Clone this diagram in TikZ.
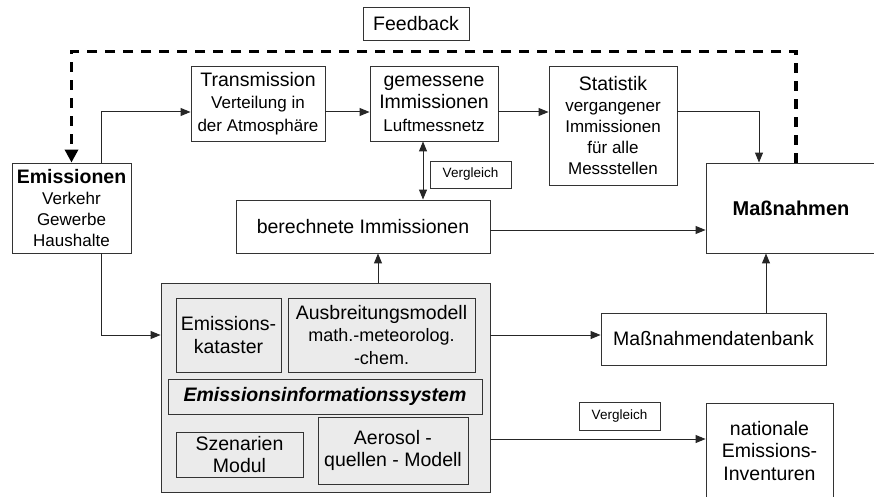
\documentclass[tikz,border=0pt]{standalone}
\usepackage{fontspec}
\setmainfont{Liberation Sans}
\usetikzlibrary{arrows.meta}

\newcommand{\gr}{\fontsize{19.5}{22.5}\selectfont}
\newcommand{\kl}{\fontsize{17}{21}\selectfont}

\begin{document}
\begin{tikzpicture}[x=1pt,y=-1pt,
  kasten/.style={draw=black!80, line width=0.9pt, inner sep=0pt, align=center, font=\gr},
  grau/.style={kasten, fill=black!8},
  vgl/.style={kasten, font=\fontsize{13.5}{16}\selectfont},
  pfeil/.style={draw=black!85, line width=1pt, -{Triangle[length=10pt,width=8pt]}},
  doppel/.style={pfeil, {Triangle[length=10pt,width=8pt]}-{Triangle[length=10pt,width=8pt]}},
  rueck/.style={line width=3.5pt, dash pattern=on 10pt off 8pt, -{Triangle[length=13pt,width=13pt]}}]
\useasboundingbox (0,0) rectangle (874,497);
\clip (0,0) rectangle (874,497);
% obere Reihe
\node[kasten, minimum width=106pt, minimum height=33pt] (feedback) at (416,23.5) {Feedback};
\node[kasten, minimum width=134pt, minimum height=75pt] (trans) at (258,103.5)
  {Transmission\\{\kl Verteilung in}\\{\kl der Atmosphäre}};
\node[kasten, minimum width=128pt, minimum height=75pt] (gemessen) at (434,103.5)
  {gemessene\\Immissionen\\{\kl Luftmessnetz}};
\node[kasten, minimum width=128pt, minimum height=119pt, font=\kl] (statistik) at (613,125.5)
  {{\gr Statistik}\\vergangener\\Immissionen\\für alle\\Messstellen};
\node[kasten, minimum width=119pt, minimum height=90pt, font=\kl] (emiss) at (71.5,208)
  {{\fontsize{19.5}{22}\selectfont\bfseries Emissionen}\\Verkehr\\Gewerbe\\Haushalte};
\node[kasten, minimum width=170pt, minimum height=90pt, font=\fontsize{20}{24}\selectfont\bfseries] (massn) at (791,208) {Maßnahmen};
\node[vgl, minimum width=81pt, minimum height=27pt] (vergl1) at (470.5,174.5) {Vergleich};
\node[kasten, minimum width=254pt, minimum height=53pt] (berech) at (363,226.5) {berechnete Immissionen};
% Emissionsinformationssystem
\node[grau, minimum width=329pt, minimum height=209pt] (eis) at (325.5,387.5) {};
\node[grau, minimum width=105pt, minimum height=74pt] (kataster) at (228.5,335) {Emissions-\\kataster};
\node[grau, minimum width=187pt, minimum height=74pt] (ausbr) at (381.5,335)
  {Ausbreitungsmodell\\{\fontsize{18}{21}\selectfont math.-meteorolog.}\\{\fontsize{18}{21}\selectfont -chem.}};
\node[grau, minimum width=314pt, minimum height=35pt, font=\gr\bfseries\itshape] (eisname) at (325,396.5) {Emissionsinformationssystem};
\node[grau, minimum width=127pt, minimum height=45pt] (szen) at (239.5,454.5) {Szenarien\\Modul};
\node[grau, minimum width=150pt, minimum height=67pt] (aerosol) at (393,450.5) {Aerosol -\\quellen - Modell};
% rechts unten
\node[kasten, minimum width=225pt, minimum height=52pt] (mdb) at (713.5,339) {Maßnahmendatenbank};
\node[vgl, minimum width=81pt, minimum height=28pt] (vergl2) at (619.5,416) {Vergleich};
\node[kasten, minimum width=127pt, minimum height=96pt] (national) at (769.5,451)
  {nationale\\Emissions-\\Inventuren};
% Pfeile
\draw[pfeil] ([xshift=29.5pt]emiss.north) |- ([yshift=-8.5pt]trans.west);
\draw[pfeil] ([yshift=-8.5pt]trans.east) -- ([yshift=-8.5pt]gemessen.west);
\draw[pfeil] ([yshift=-8.5pt]gemessen.east) -- ([yshift=-8.5pt]gemessen.east -| statistik.west);
\draw[pfeil] ([yshift=-8.5pt]gemessen.east -| statistik.east) -| ([xshift=-32pt]massn.north);
\draw[doppel] ([xshift=-11pt]gemessen.south) -- ([xshift=-11pt]gemessen.south |- berech.north);
\draw[pfeil] ([yshift=-3.5pt]berech.east) -- ([yshift=-3.5pt]berech.east -| massn.west);
\draw[pfeil] ([xshift=52.5pt]eis.north) -- ([xshift=52.5pt]eis.north |- berech.south);
\draw[pfeil] ([xshift=29.5pt]emiss.south) |- ([yshift=52.5pt]eis.west);
\draw[pfeil] ([yshift=52.5pt]eis.east) -- ([yshift=52.5pt]eis.east -| mdb.west);
\draw[pfeil] ([xshift=52.5pt]mdb.north) -- ([xshift=52.5pt]mdb.north |- massn.south);
\draw[pfeil] ([yshift=-51.5pt]eis.east) -- ([yshift=-51.5pt]eis.east -| national.west);
% Feedback
\draw[rueck] ([xshift=5pt]massn.north) -- ++(0,-111) -| (emiss.north);
\end{tikzpicture}
\end{document}
